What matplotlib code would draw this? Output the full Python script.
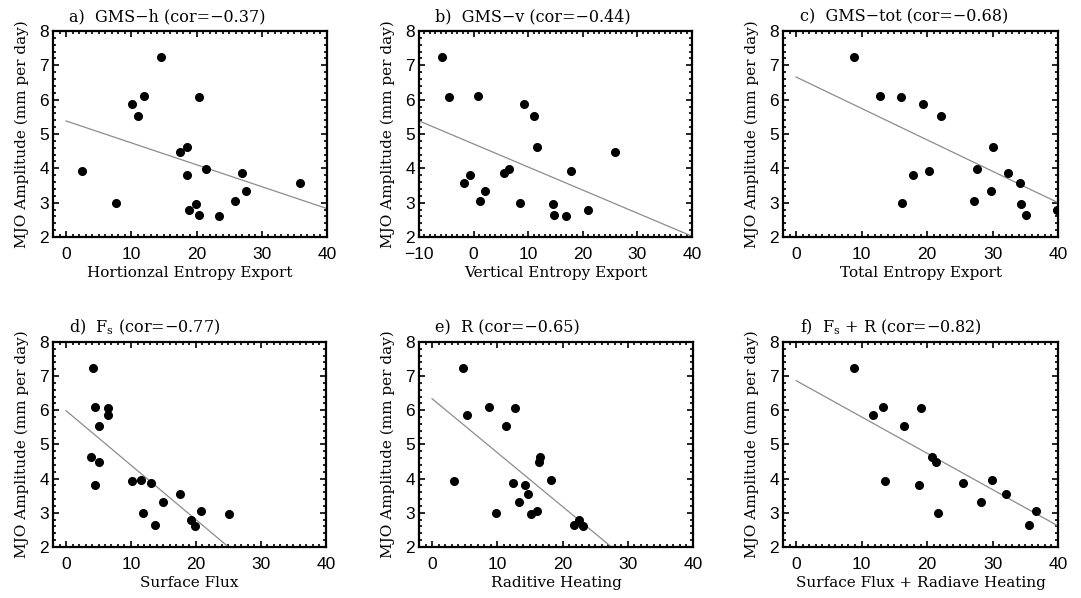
import numpy as np
import matplotlib
matplotlib.use("Agg")
import matplotlib.pyplot as plt
from matplotlib.ticker import MultipleLocator, FuncFormatter

plt.rcParams['mathtext.fontset'] = 'dejavuserif'

# MJO amplitude of the 19 models (same for every panel)
mjo_amp = [7.25, 6.11, 6.08, 5.87, 5.53, 4.62, 4.48, 3.97, 3.92, 3.87,
           3.80, 3.56, 3.33, 3.05, 2.99, 2.96, 2.80, 2.65, 2.61]

# x values per panel, same model order (nan = outside the plotted range)
gms_h = [14.6, 12.0, 20.4, 10.1, 11.0, 18.5, 17.5, 21.4, 2.4, 27.0,
         18.5, 35.8, 27.6, 25.9, 7.7, 19.9, 18.9, 20.4, 23.5]
gms_v = [-5.7, 0.8, -4.5, 9.3, 11.1, 11.6, 25.9, 6.4, 17.9, 5.5,
         -0.7, -1.7, 2.1, 1.2, 8.5, 14.5, 21.0, 14.7, 17.0]
gms_tot = [8.9, 12.8, 16.0, 19.4, 22.1, 30.1, np.nan, 27.7, 20.3, 32.4,
           17.9, 34.2, 29.7, 27.1, 16.1, 34.3, 39.9, 35.1, np.nan]
surf_flux = [4.1, 4.5, 6.4, 6.4, 5.0, 3.9, 5.0, 11.6, 10.1, 13.1,
             4.4, 17.5, 14.9, 20.7, 11.9, 25.1, 19.3, 13.7, 19.9]
rad_heat = [4.7, 8.8, 12.7, 5.4, 11.4, 16.6, 16.4, 18.3, 3.4, 12.4,
            14.3, 14.7, 13.3, 16.1, 9.8, 15.1, 22.5, 21.8, 23.2]
fs_plus_r = [8.8, 13.3, 19.1, 11.7, 16.5, 20.8, 21.4, 29.9, 13.6, 25.5,
             18.7, 32.1, 28.2, 36.7, 21.7, np.nan, np.nan, 35.5, np.nan]

# regression lines (value at x=0, slope)
fit_icpt = [5.38, 4.71, 6.66, 5.99, 6.34, 6.87]
fit_slope = [-0.0638, -0.0672, -0.0915, -0.1596, -0.1578, -0.1063]

titles = ['a)  GMS\u2212h (cor=\u22120.37)',
          'b)  GMS\u2212v (cor=\u22120.44)',
          'c)  GMS\u2212tot (cor=\u22120.68)',
          'd)  F$_{\\rm s}$ (cor=\u22120.77)',
          'e)  R (cor=\u22120.65)',
          'f)  F$_{\\rm s}$ + R (cor=\u22120.82)']
xlabels = ['Hortionzal Entropy Export', 'Vertical Entropy Export',
           'Total Entropy Export', 'Surface Flux', 'Raditive Heating',
           'Surface Flux + Radiave Heating']
xlims = [(-2, 40), (-10, 40), (-2, 40), (-2, 40), (-2, 40), (-2, 40)]
xdata = [gms_h, gms_v, gms_tot, surf_flux, rad_heat, fs_plus_r]

W, H = 1081, 598
fig = plt.figure(figsize=(W / 100, H / 100), dpi=100)

# axes boxes in pixels: left, top, right, bottom
boxes = [(53, 31, 327, 237), (419, 31, 692, 237), (783, 31, 1058, 237),
         (53, 342, 326, 547), (419, 342, 693, 547), (783, 342, 1058, 547)]

serif = 'DejaVu Serif'
sans = 'Liberation Sans'
fmt = FuncFormatter(lambda v, p: ('%d' % round(v)).replace('-', '\u2212'))

for i in range(6):
    l, t, r, b = boxes[i]
    ax = fig.add_axes([l / W, 1 - b / H, (r - l) / W, (b - t) / H])
    ax.plot(xdata[i], mjo_amp, 'o', color='black', ms=5.5, zorder=3)
    x0, x1 = xlims[i]
    xl = np.array([-10.0 if i == 1 else 0.0, x1])
    ax.plot(xl, fit_icpt[i] + fit_slope[i] * xl, color='#8c8c8c', lw=0.9)
    ax.set_xlim(x0, x1)
    ax.set_ylim(2, 8)
    ax.xaxis.set_major_locator(MultipleLocator(10))
    ax.xaxis.set_minor_locator(MultipleLocator(1))
    ax.yaxis.set_major_locator(MultipleLocator(1))
    ax.yaxis.set_minor_locator(MultipleLocator(0.2))
    ax.xaxis.set_major_formatter(fmt)
    ax.yaxis.set_major_formatter(fmt)
    ax.tick_params(which='both', direction='in', top=True, right=True,
                   width=1.2, labelsize=12.5, colors='black')
    ax.tick_params(which='major', length=4.5, pad=3)
    ax.tick_params(axis='x', which='major', pad=7)
    ax.tick_params(which='minor', length=2)
    for lab in ax.get_xticklabels() + ax.get_yticklabels():
        lab.set_fontfamily(sans)
    for s in ax.spines.values():
        s.set_linewidth(1.6)
    ax.set_ylabel('MJO Amplitude (mm per day)', fontfamily=serif,
                  fontsize=11, labelpad=7)
    ax.set_xlabel(xlabels[i], fontfamily=serif, fontsize=11, labelpad=3)
    ax.text(0.06, 1.025, titles[i], transform=ax.transAxes, ha='left',
            va='bottom', fontfamily=serif, fontsize=11.5)

fig.savefig('out.png', dpi=100)
